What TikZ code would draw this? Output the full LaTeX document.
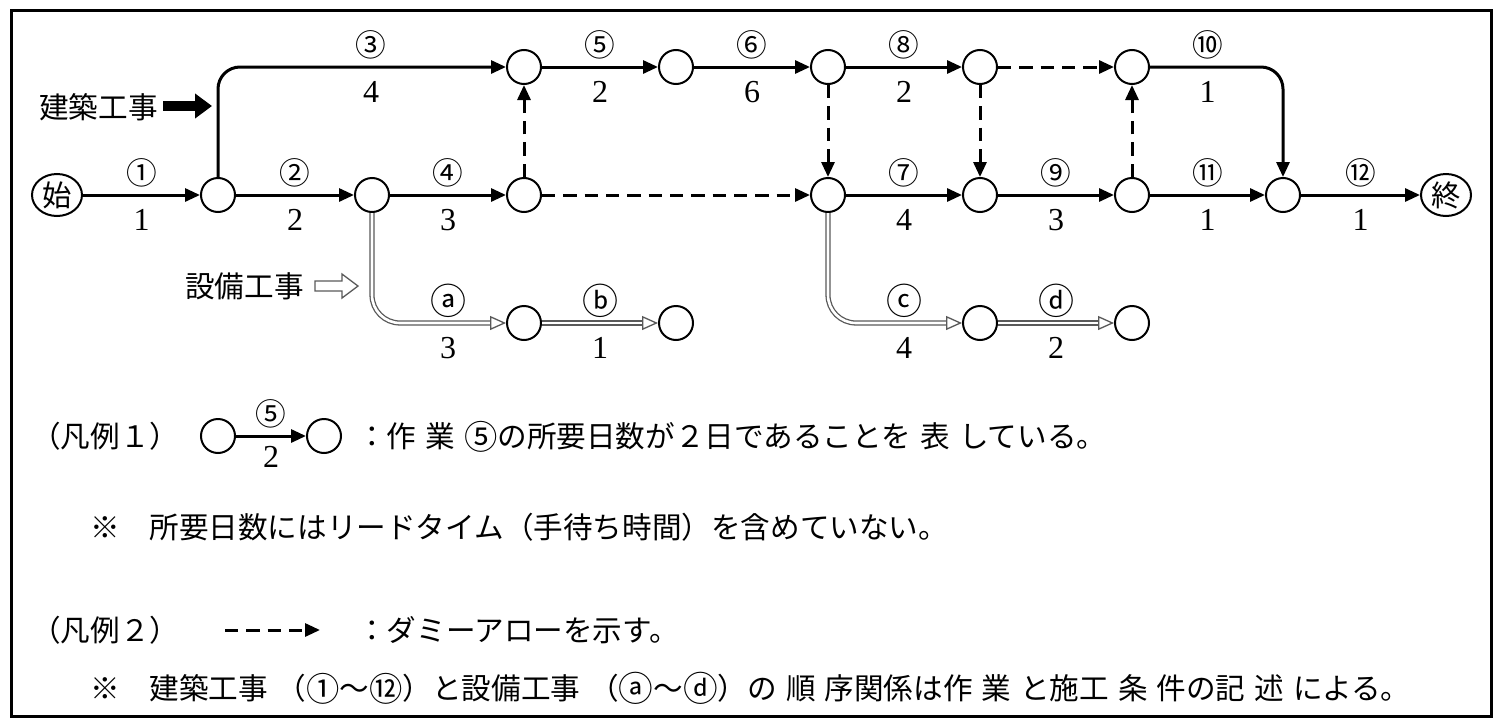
\documentclass[tikz,border=0pt]{standalone}
\usepackage{fontspec}
\setmainfont{Liberation Serif}
\newfontfamily\jp{Noto Sans CJK JP}
\usetikzlibrary{arrows.meta,calc,shapes.geometric}
\newcommand\gp{\hspace{6.75pt}}
\newcommand\encl[1]{\raisebox{-2pt}{\fontsize{26pt}{26pt}\selectfont #1}}
\newcommand\encn[1]{\raisebox{-1.5pt}{\fontsize{25pt}{25pt}\selectfont #1}}
\begin{document}
\begin{tikzpicture}[x=0.75pt,y=-0.75pt,
  nd/.style={circle,draw,line width=1.5pt,minimum size=25.5pt,inner sep=0pt},
  se/.style={ellipse,draw,line width=1.5pt,minimum width=37.5pt,minimum height=31.5pt,inner sep=0pt,font=\jp\fontsize{22pt}{22pt}\selectfont},
  arr/.style={line width=2.25pt,-{Triangle[length=11.25pt,width=9.75pt]}},
  dm/.style={arr,dash pattern=on 10pt off 6pt},
  dbl/.style={draw=black!65,line width=0.975pt,double=white,double distance=1.95pt},
  ohead/.style={draw=black!65,line width=0.975pt,-{Triangle[length=12pt,width=10.5pt,fill=white]}},
  up/.style={font=\jp\fontsize{23pt}{23pt}\selectfont,inner sep=0pt,yshift=16.5pt},
  upa/.style={font=\jp\fontsize{27pt}{27pt}\selectfont,inner sep=0pt,yshift=16.5pt},
  lo/.style={font=\fontsize{24pt}{24pt}\selectfont,inner sep=0pt,yshift=-18.75pt},
  tx/.style={font=\jp\fontsize{22.2pt}{26pt}\selectfont,inner sep=0pt,anchor=base west},
]
\useasboundingbox (0,0) rectangle (1500,725);
\draw[line width=2.25pt] (11,10) rectangle (1491,716);

% event nodes
\node[se] (S) at (57,195) {始};
\node[nd] (n1) at (218,195) {};
\node[nd] (n2) at (372,195) {};
\node[nd] (n3) at (524,195) {};
\node[nd] (t3) at (524,67) {};
\node[nd] (t5) at (676,67) {};
\node[nd] (t6) at (828,67) {};
\node[nd] (m6) at (828,195) {};
\node[nd] (t8) at (980,67) {};
\node[nd] (m8) at (980,195) {};
\node[nd] (t10) at (1132,67) {};
\node[nd] (m10) at (1132,195) {};
\node[nd] (m12) at (1283,195) {};
\node[se] (E) at (1446,195) {終};
\node[nd] (ba) at (524,323) {};
\node[nd] (bb) at (676,323) {};
\node[nd] (bc) at (980,323) {};
\node[nd] (bd) at (1132,323) {};

% activities
\draw[arr] (S) -- node[up](c1){①} node[lo](d1){1} (n1);
\draw[arr] (n1) -- node[up](c2){②} node[lo](d2){2} (n2);
\draw[arr] (n2) -- node[up](c4){④} node[lo](d4){3} (n3);
\draw[arr] (t3) -- node[up](c5){⑤} node[lo](d5){2} (t5);
\draw[arr] (t5) -- node[up](c6){⑥} node[lo](d6){6} (t6);
\draw[arr] (t6) -- node[up](c8){⑧} node[lo](d8){2} (t8);
\draw[arr] (m6) -- node[up](c7){⑦} node[lo](d7){4} (m8);
\draw[arr] (m8) -- node[up](c9){⑨} node[lo](d9){3} (m10);
\draw[arr] (m10) -- node[up](c11){⑪} node[lo](d11){1} (m12);
\draw[arr] (m12) -- node[up](c12){⑫} node[lo](d12){1} (E);
\draw[arr,rounded corners=16.5pt] (n1.north) |- (t3.west);
\path (n1|-t3) -- node[up](c3){③} node[lo](d3){4} (t3.center);
\draw[arr,rounded corners=16.5pt] (t10.east) -| (m12.north);
\path (t10.center) -- node[up](c10){⑩} node[lo](d10){1} (t10-|m12);

% dummies
\draw[dm] (n3) -- (t3);
\draw[dm] (n3) -- (m6);
\draw[dm] (t6) -- (m6);
\draw[dm] (t8) -- (m8);
\draw[dm] (t8) -- (t10);
\draw[dm] (m10) -- (t10);

% equipment works (double lines)
\draw[dbl,rounded corners=21pt] (n2.south) |- ($(ba.west)+(-16,0)$);
\draw[ohead] ($(ba.west)+(-16,0)$) -- (ba.west);
\path (n2|-ba) -- node[upa](ca){ⓐ} node[lo](da){3} (ba.center);
\draw[dbl] (ba.east) -- ($(bb.west)+(-16,0)$);
\draw[ohead] ($(bb.west)+(-16,0)$) -- (bb.west);
\path (ba) -- node[upa](cb){ⓑ} node[lo](db){1} (bb);
\draw[dbl,rounded corners=21pt] (m6.south) |- ($(bc.west)+(-16,0)$);
\draw[ohead] ($(bc.west)+(-16,0)$) -- (bc.west);
\path (m6|-bc) -- node[upa](cc){ⓒ} node[lo](dc){4} (bc.center);
\draw[dbl] (bc.east) -- ($(bd.west)+(-16,0)$);
\draw[ohead] ($(bd.west)+(-16,0)$) -- (bd.west);
\path (bc) -- node[upa](cd){ⓓ} node[lo](dd){2} (bd);

% group labels with block arrows
\node[tx] (k1) at (39,118) {建築工事};
\coordinate (ka1) at (163,106);
\coordinate (ka2) at (212,106);
\draw[line width=7.5pt,-{Triangle[length=12.75pt,width=18pt]}] (ka1) -- (ka2);
\node[tx] (k2) at (185,297) {設備工事};
\draw[draw=black!65,line width=0.975pt] (315,281) -- (342,281) -- (342,274) -- (358,286) -- (342,298) -- (342,291) -- (315,291) -- cycle;

% legend
\node[tx] (g1) at (31,447) {（凡例１）};
\node[nd] (L1) at (218,436) {};
\node[nd] (L2) at (324,436) {};
\draw[arr] (L1) -- node[up](l5){⑤} node[lo,yshift=3pt](l2){2} (L2);
\node[tx] (g1t) at (357,447) {：作\gp 業\gp \encn{⑤}の所要日数が２日であることを\gp 表\gp している。};
\node[tx] (g1n) at (90,538) {※　所要日数にはリードタイム（手待ち時間）を含めていない。};
\node[tx] (g2) at (31,641) {（凡例２）};
\coordinate (D1) at (225,630);
\coordinate (D2) at (320,630);
\draw[dm] (D1) -- (D2);
\node[tx] (g2t) at (357,641) {：ダミーアローを示す。};
\node[tx] (g2n) at (90,699) {※　建築工事\gp（\encn{①}～\encn{⑫}）と設備工事\gp（\encl{ⓐ}～\encl{ⓓ}）の\gp 順\gp 序関係は作\gp 業\gp と施工\gp 条\gp 件の記\gp 述\gp による。};
\end{tikzpicture}
\end{document}
